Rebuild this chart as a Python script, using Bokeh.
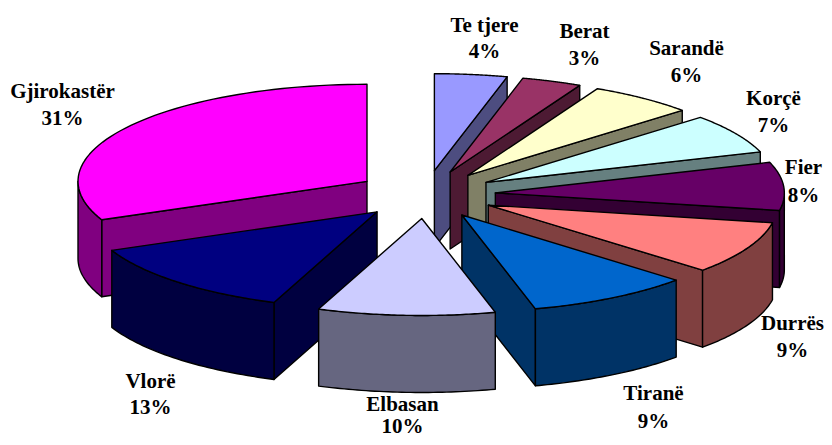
import math
from bokeh.plotting import figure
from bokeh.models import Range1d, ColumnDataSource
from bokeh.core.properties import value
from bokeh.embed import file_html
from bokeh.resources import INLINE

# data, clockwise from twelve o'clock (estimated so the slices match the picture; labels are rounded)
categories = ["Te tjere", "Berat", "Sarandë", "Korçë", "Fier", "Durrës", "Tiranë", "Elbasan", "Vlorë", "Gjirokastër"]
shares = [4.05, 3.35, 5.9, 6.6, 8.0, 8.8, 9.2, 9.9, 12.7, 31.49]
top_colors = ["#9999FF", "#993366", "#FFFFCC", "#CCFFFF", "#660066", "#FF8080", "#0066CC", "#CCCCFF", "#000080", "#FF00FF"]
side_colors = ["#4D4D80", "#4D1A33", "#808066", "#668080", "#330033", "#804040", "#003366", "#666680", "#000040", "#800080"]

# layout
CX, CY, RX, RY, EX, EY, DEPTH = 425, 194, 289, 97, 70, 24, 77
label_x = [484, 584, 686, 773, 803, 792, 653, 402, 150, 62]
label_y = [24, 30, 47, 97, 166, 322, 392, 403, 380, 90]
LINE_GAP = [26, 27, 27, 27, 28, 27, 28, 22, 26, 27]
paint_order = [0, 1, 2, 3, 4, 5, 6, 9, 8, 7]

p = figure(width=824, height=437, output_backend="svg", toolbar_location=None,
           x_range=Range1d(0, 824), y_range=Range1d(437, 0),
           min_border=0, outline_line_color=None, background_fill_color="white")
p.axis.visible = False
p.grid.visible = False

total = sum(shares)
def pt(ax, ay, th, dz=0):
    return ax + RX * math.sin(th), ay - RY * math.cos(th) + dz

cum = 0
slices = []
for name, s, tc, sc in zip(categories, shares, top_colors, side_colors):
    t0 = 2 * math.pi * cum / total
    t1 = 2 * math.pi * (cum + s) / total
    cum += s
    slices.append((t0, t1, tc, sc))

def draw(xs, ys, color):
    p.patch(xs, ys, fill_color=color, line_color="black", line_width=1.4, line_join="round")

for i in paint_order:
    t0, t1, tc, sc = slices[i]
    mid = (t0 + t1) / 2
    ax = CX + EX * math.sin(mid)
    ay = CY - EY * math.cos(mid)
    # radial walls facing the viewer
    for th, visible in ((t0, math.sin(t0) < -1e-9), (t1, math.sin(t1) > 1e-9)):
        if visible:
            ox, oy = pt(ax, ay, th)
            draw([ax, ox, ox, ax], [ay, oy, oy + DEPTH, ay + DEPTH], sc)
    # outer wall, front half of the rim only
    lo, hi = max(t0, math.pi / 2), min(t1, 3 * math.pi / 2)
    if hi > lo:
        ths = [lo + (hi - lo) * k / 40 for k in range(41)]
        top = [pt(ax, ay, th) for th in ths]
        bot = [pt(ax, ay, th, DEPTH) for th in reversed(ths)]
        draw([q[0] for q in top + bot], [q[1] for q in top + bot], sc)
    # top face
    ths = [t0 + (t1 - t0) * k / 60 for k in range(61)]
    rim = [pt(ax, ay, th) for th in ths]
    draw([ax] + [q[0] for q in rim], [ay] + [q[1] for q in rim], tc)

txt_x, txt_y, txt = [], [], []
for name, s, lx, ly, gap in zip(categories, shares, label_x, label_y, LINE_GAP):
    txt_x += [lx, lx]
    txt_y += [ly, ly + gap]
    txt += [name, f"{round(s)}%"]
src = ColumnDataSource(dict(x=txt_x, y=txt_y, t=txt))
p.text("x", "y", text="t", source=src, text_font=value("Liberation Serif"), text_font_style="bold",
       text_font_size="21px", text_align="center", text_baseline="middle", text_color="black")

open("out.html", "w").write(file_html(p, INLINE))
